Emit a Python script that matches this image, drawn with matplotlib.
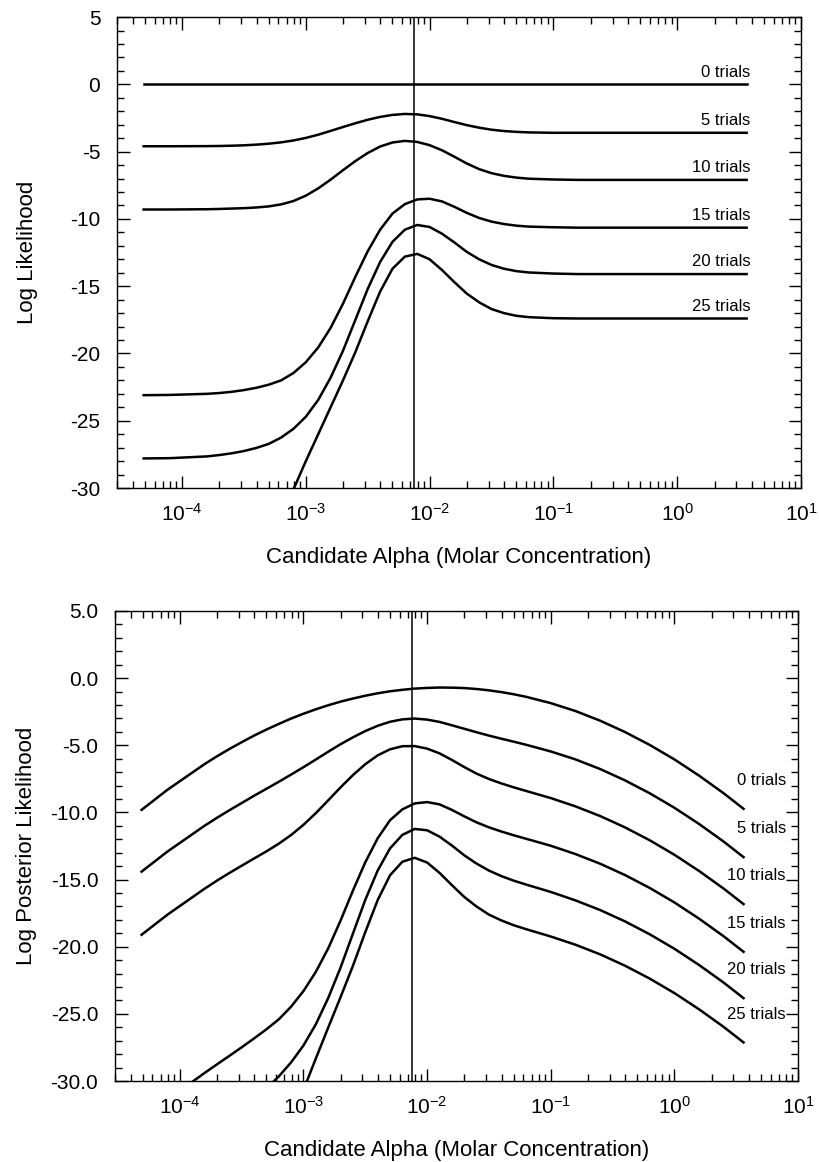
import numpy as np
import matplotlib
matplotlib.use("Agg")
import matplotlib.pyplot as plt
from matplotlib.ticker import MultipleLocator, FuncFormatter, NullFormatter, LogLocator

plt.rcParams['font.family'] = ['Liberation Sans', 'DejaVu Sans']
plt.rcParams['mathtext.default'] = 'regular'
plt.rcParams['axes.unicode_minus'] = False

# log10 of candidate alpha (molar concentration)
log_alpha = [-4.31, -4.1, -3.8, -3.7, -3.6, -3.5, -3.4, -3.3, -3.2, -3.1,
             -3.0, -2.9, -2.8, -2.7, -2.6, -2.5, -2.4, -2.3, -2.2, -2.1,
             -2.0, -1.9, -1.8, -1.7, -1.6, -1.5, -1.4, -1.3, -1.2, -1.0,
             -0.8, -0.6, -0.4, -0.2, 0.0, 0.2, 0.4, 0.56]
true_alpha = 0.0075
trials = [0, 5, 10, 15, 20, 25]

# top panel: log likelihood
lik_0 = [0.0] * len(log_alpha)
lik_5 = [-4.60, -4.60, -4.59, -4.58, -4.56, -4.53, -4.48, -4.41, -4.31, -4.17,
         -3.98, -3.74, -3.46, -3.17, -2.89, -2.63, -2.42, -2.27, -2.20, -2.23,
         -2.36, -2.56, -2.80, -3.03, -3.22, -3.37, -3.47, -3.53, -3.57, -3.60,
         -3.60, -3.60, -3.60, -3.60, -3.60, -3.60, -3.60, -3.60]
lik_10 = [-9.30, -9.30, -9.28, -9.26, -9.23, -9.20, -9.15, -9.07, -8.92, -8.67,
          -8.27, -7.73, -7.08, -6.38, -5.70, -5.10, -4.62, -4.32, -4.20, -4.28,
          -4.52, -4.90, -5.38, -5.88, -6.30, -6.60, -6.80, -6.93, -7.01, -7.07,
          -7.10, -7.10, -7.10, -7.10, -7.10, -7.10, -7.10, -7.10]
lik_15 = [-23.10, -23.08, -23.00, -22.94, -22.85, -22.72, -22.55, -22.32, -22.00, -21.45,
          -20.65, -19.55, -18.10, -16.30, -14.30, -12.40, -10.80, -9.60, -8.90, -8.55,
          -8.50, -8.70, -9.10, -9.55, -9.93, -10.20, -10.38, -10.50, -10.57, -10.62,
          -10.65, -10.65, -10.65, -10.65, -10.65, -10.65, -10.65, -10.65]
lik_20 = [-27.80, -27.78, -27.65, -27.55, -27.42, -27.25, -27.02, -26.72, -26.25, -25.60,
          -24.70, -23.45, -21.80, -19.80, -17.50, -15.20, -13.20, -11.70, -10.80, -10.45,
          -10.60, -11.10, -11.75, -12.45, -13.00, -13.42, -13.70, -13.88, -13.98, -14.06,
          -14.10, -14.10, -14.10, -14.10, -14.10, -14.10, -14.10, -14.10]
lik_25 = [np.nan, np.nan, np.nan, np.nan, np.nan, np.nan, np.nan, -34.50, -32.30, -30.10,
          -28.00, -26.00, -24.00, -22.00, -19.90, -17.60, -15.40, -13.70, -12.80, -12.60,
          -13.00, -13.80, -14.70, -15.55, -16.20, -16.70, -17.00, -17.20, -17.30, -17.38,
          -17.40, -17.40, -17.40, -17.40, -17.40, -17.40, -17.40, -17.40]

# bottom panel: log posterior likelihood
post_0 = [-9.81, -8.31, -6.40, -5.82, -5.28, -4.77, -4.28, -3.83, -3.41, -3.01,
          -2.65, -2.32, -2.02, -1.75, -1.52, -1.31, -1.13, -0.98, -0.87, -0.78,
          -0.73, -0.70, -0.71, -0.74, -0.81, -0.91, -1.04, -1.20, -1.39, -1.86,
          -2.45, -3.17, -4.01, -4.97, -6.05, -7.26, -8.58, -9.73]
post_5 = [-14.41, -12.91, -10.99, -10.40, -9.84, -9.30, -8.76, -8.24, -7.72, -7.18,
          -6.63, -6.06, -5.48, -4.92, -4.41, -3.94, -3.55, -3.25, -3.07, -3.01,
          -3.09, -3.26, -3.51, -3.77, -4.03, -4.28, -4.51, -4.73, -4.96, -5.46,
          -6.05, -6.77, -7.61, -8.57, -9.65, -10.86, -12.18, -13.33]
post_10 = [-19.11, -17.61, -15.68, -15.08, -14.51, -13.97, -13.43, -12.90, -12.33, -11.68,
           -10.92, -10.05, -9.10, -8.13, -7.22, -6.41, -5.75, -5.30, -5.07, -5.06,
           -5.25, -5.60, -6.09, -6.62, -7.11, -7.51, -7.84, -8.13, -8.40, -8.93,
           -9.55, -10.27, -11.11, -12.07, -13.15, -14.36, -15.68, -16.83]
post_15 = [-32.91, -31.39, -29.40, -28.76, -28.13, -27.49, -26.83, -26.15, -25.41, -24.46,
           -23.30, -21.87, -20.12, -18.05, -15.82, -13.71, -11.93, -10.58, -9.77, -9.33,
           -9.23, -9.40, -9.81, -10.29, -10.74, -11.11, -11.42, -11.70, -11.96, -12.48,
           -13.10, -13.82, -14.66, -15.62, -16.70, -17.91, -19.23, -20.38]
post_20 = [-37.61, -36.09, -34.05, -33.37, -32.70, -32.02, -31.30, -30.55, -29.66, -28.61,
           -27.35, -25.77, -23.82, -21.55, -19.02, -16.51, -14.33, -12.68, -11.67, -11.23,
           -11.33, -11.80, -12.46, -13.19, -13.81, -14.33, -14.74, -15.08, -15.37, -15.92,
           -16.55, -17.27, -18.11, -19.07, -20.15, -21.36, -22.68, -23.83]
post_25 = [np.nan, np.nan, np.nan, np.nan, np.nan, np.nan, np.nan, -38.33, -35.71, -33.11,
           -30.65, -28.32, -26.02, -23.75, -21.42, -18.91, -16.53, -14.68, -13.67, -13.38,
           -13.73, -14.50, -15.41, -16.29, -17.01, -17.61, -18.04, -18.40, -18.69, -19.24,
           -19.85, -20.57, -21.41, -22.37, -23.45, -24.66, -25.98, -27.13]

alpha = 10 ** np.array(log_alpha)
lik = [lik_0, lik_5, lik_10, lik_15, lik_20, lik_25]
post = [post_0, post_5, post_10, post_15, post_20, post_25]


def setup(ax, ylabel, yfmt, ylabelpad):
    ax.set_xscale('log')
    ax.set_xlim(10 ** -4.525, 10)
    ax.set_ylim(-30, 5)
    ax.set_xticks([1e-4, 1e-3, 1e-2, 1e-1, 1e0, 1e1])
    ax.xaxis.set_minor_locator(LogLocator(base=10, subs=np.arange(2, 10)))
    ax.xaxis.set_minor_formatter(NullFormatter())
    ax.xaxis.set_major_formatter(FuncFormatter(lambda v, p: r'$10^{%d}$' % round(np.log10(v))))
    ax.yaxis.set_major_locator(MultipleLocator(5))
    ax.yaxis.set_minor_locator(MultipleLocator(1))
    ax.yaxis.set_major_formatter(FuncFormatter(lambda v, p: yfmt % v))
    ax.tick_params(which='both', direction='in', top=True, right=True, width=1.0)
    ax.tick_params(which='major', length=9, labelsize=15)
    ax.tick_params(which='minor', length=5)
    ax.tick_params(axis='y', pad=12)
    ax.tick_params(axis='x', pad=11)
    for s in ax.spines.values():
        s.set_linewidth(1.0)
    ax.set_ylabel(ylabel, fontsize=16, labelpad=ylabelpad)
    ax.set_xlabel('Candidate Alpha (Molar Concentration)', fontsize=16, labelpad=16)
    ax.axvline(true_alpha, color='black', lw=1.1)


fig = plt.figure(figsize=(8.19, 11.62), dpi=100)
ax1 = fig.add_axes([0.1429, 0.5800, 0.8352, 0.4053])
ax2 = fig.add_axes([0.1404, 0.0697, 0.8339, 0.4045])

setup(ax1, 'Log Likelihood', '%d', 23)
for n, y in zip(trials, lik):
    ax1.plot(alpha, y, color='black', lw=1.8)
    ax1.text(3.9, y[-1] + 0.9, f'{n} trials', ha='right', va='center', fontsize=12)

setup(ax2, 'Log Posterior Likelihood', '%.1f', 10)
for n, y in zip(trials, post):
    ax2.plot(alpha, y, color='black', lw=1.8)
    ax2.text(8.0, y[-1] + 2.1, f'{n} trials', ha='right', va='center', fontsize=12)

fig.savefig('out.png', dpi=100)
